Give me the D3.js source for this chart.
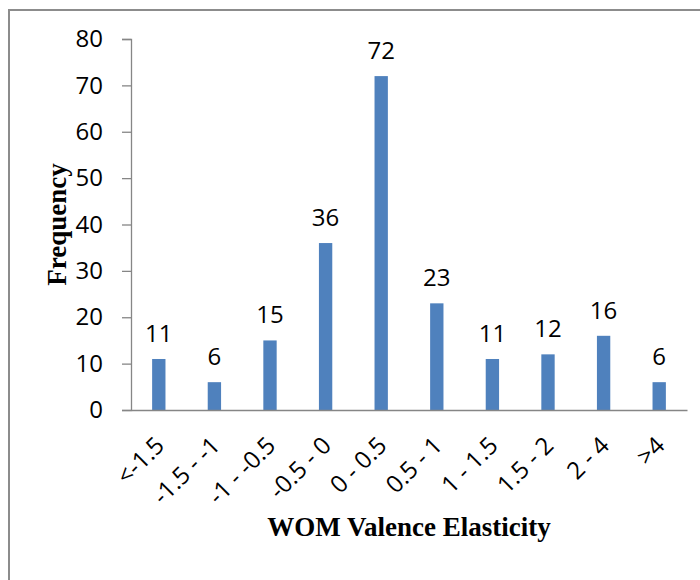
<!DOCTYPE html>
<html>
<head>
<meta charset="utf-8">
<script src="https://cdn.jsdelivr.net/npm/d3@7"></script>
<style>
  body { margin: 0; background: #fff; }
  .tick text, .bar-label { font-family: "Open Sans", sans-serif; fill: #000; }
  .axis-title { font-family: "Liberation Serif", "Times New Roman", serif; font-weight: bold; }
</style>
</head>
<body>
<div id="chart"></div>
<script>
// Data
const categories = ["<-1.5", "-1.5 - -1", "-1 - -0.5", "-0.5 - 0", "0 - 0.5",
                    "0.5 - 1", "1 - 1.5", "1.5 - 2", "2 - 4", ">4"];
const frequency = [11, 6, 15, 36, 72, 23, 11, 12, 16, 6];
const yTicks = [0, 10, 20, 30, 40, 50, 60, 70, 80];

const margin = { top: 39, right: 13, bottom: 170, left: 131 };
const width = 700 - margin.left - margin.right;
const height = 580 - margin.top - margin.bottom;

const root = d3.select("#chart").append("svg")
    .attr("width", 700)
    .attr("height", 580);

// Outer chart border (runs off right and bottom edges)
root.append("rect")
    .attr("x", 9)
    .attr("y", 10)
    .attr("width", 720)
    .attr("height", 600)
    .attr("fill", "none")
    .attr("stroke", "#8c8c8c")
    .attr("stroke-width", 2);

const svg = root.append("g")
    .attr("transform", `translate(${margin.left},${margin.top})`);

// Scales
const xScale = d3.scaleBand()
    .domain(categories)
    .range([0, width])
    .paddingInner(0.76)
    .paddingOuter(0.38);

const yScale = d3.scaleLinear()
    .domain([0, 80])
    .range([height, 0]);

// Y axis
const yAxis = svg.append("g")
    .attr("class", "y-axis")
    .call(d3.axisLeft(yScale)
        .tickValues(yTicks)
        .tickSize(9)
        .tickPadding(19));

yAxis.select(".domain").attr("stroke", "#868686").attr("stroke-width", 1.3);
yAxis.selectAll(".tick line").attr("stroke", "#868686").attr("stroke-width", 1.3);
yAxis.selectAll(".tick text").style("font-size", "24px");

// Bars
svg.selectAll(".bar")
    .data(frequency)
    .enter().append("rect")
    .attr("class", "bar")
    .attr("x", (d, i) => xScale(categories[i]))
    .attr("y", d => yScale(d))
    .attr("width", xScale.bandwidth())
    .attr("height", d => height - yScale(d))
    .attr("fill", "#4F81BD");

// Data labels
svg.selectAll(".bar-label")
    .data(frequency)
    .enter().append("text")
    .attr("class", "bar-label")
    .attr("x", (d, i) => xScale(categories[i]) + xScale.bandwidth() / 2)
    .attr("y", d => yScale(d) - 17)
    .attr("text-anchor", "middle")
    .style("font-size", "24px")
    .text(d => d);

// X axis (no ticks)
const xAxis = svg.append("g")
    .attr("class", "x-axis")
    .attr("transform", `translate(0,${height})`)
    .call(d3.axisBottom(xScale).tickSize(0).tickPadding(0));

xAxis.select(".domain").attr("stroke", "#868686").attr("stroke-width", 1.3);
xAxis.selectAll(".tick text")
    .style("font-size", "24px")
    .attr("text-anchor", "end")
    .attr("dy", 0)
    .attr("transform", "translate(7,37) rotate(-45)");

// Axis titles
svg.append("text")
    .attr("class", "axis-title")
    .attr("x", width / 2)
    .attr("y", height + 126)
    .attr("text-anchor", "middle")
    .style("font-size", "27px")
    .text("WOM Valence Elasticity");

svg.append("text")
    .attr("class", "axis-title")
    .attr("transform", "rotate(-90)")
    .attr("x", -height / 2)
    .attr("y", -65)
    .attr("text-anchor", "middle")
    .style("font-size", "27px")
    .text("Frequency");
</script>
</body>
</html>
